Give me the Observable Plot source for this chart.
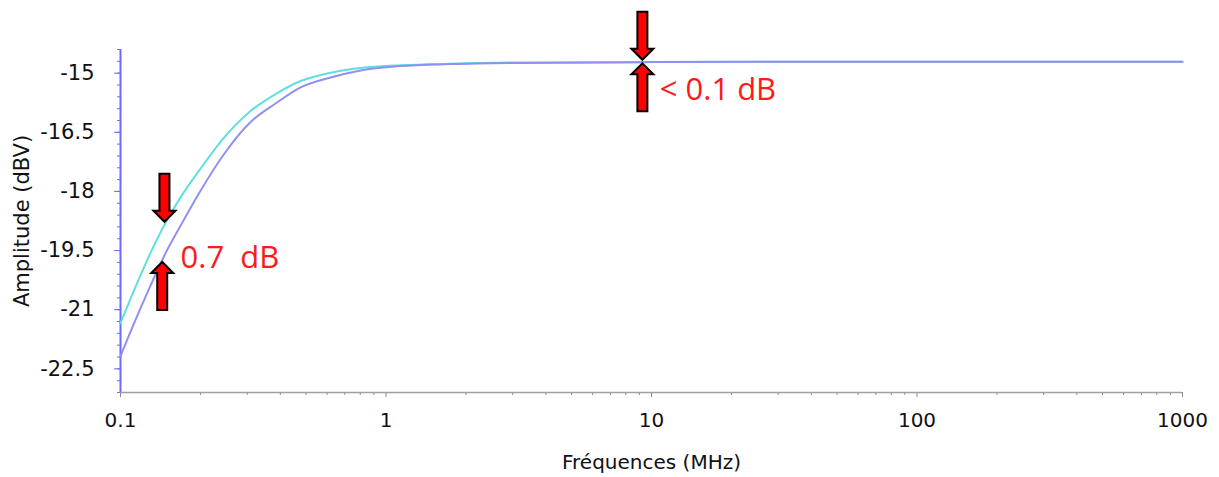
<!DOCTYPE html>
<html>
<head>
<meta charset="utf-8">
<script src="https://cdn.jsdelivr.net/npm/d3@7"></script>
<script src="https://cdn.jsdelivr.net/npm/@observablehq/plot@0.6"></script>
<style>
  body { margin: 0; background: #fff; }
  svg text { white-space: pre; }
</style>
</head>
<body>
<div id="chart"></div>
<script>
// Frequencies (MHz) at which both curves were read
const freq     = [0.1, 0.1139, 0.1297, 0.1477, 0.1683, 0.2002, 0.2487, 0.309, 0.3838, 0.4767, 0.6183, 0.8023, 1.135, 1.75, 3.2, 9.9, 100, 1000];
// Cyan curve amplitude (dBV)
const ampCyan  = [-21.34, -20.42, -19.56, -18.80, -18.15, -17.42, -16.59, -15.96, -15.53, -15.20, -14.99, -14.87, -14.80, -14.76, -14.73, -14.72, -14.71, -14.71];
// Blue curve amplitude (dBV)
const ampBlue  = [-22.18, -21.26, -20.39, -19.57, -18.87, -17.98, -17.00, -16.24, -15.77, -15.36, -15.11, -14.93, -14.82, -14.77, -14.74, -14.72, -14.71, -14.71];

// Axes
const xMajorTicks = [0.1, 1, 10, 100, 1000];
const xMinorTicks = [0.2,0.3,0.4,0.5,0.6,0.7,0.8,0.9, 2,3,4,5,6,7,8,9, 20,30,40,50,60,70,80,90, 200,300,400,500,600,700,800,900];
const yMajorTicks = [-22.5, -21, -19.5, -18, -16.5, -15];
const yMinorTicks = d3.range(-23.1, -14.39, 0.3);
const yDomain = [-23.1, -14.4];
const xDomain = [0.1, 1000];

// Annotations
const arrowX   = [0.1464, 0.1436, 9.24, 9.24];
const arrowY   = [-18.77, -19.79, -14.66, -14.75];
const arrowDir = [180, 0, 180, 0];
const labelText = ["0.7  dB", "< 0.1 dB"];
const labelX    = [0.1683, 10.74];
const labelY    = [-19.70, -15.42];

const cyan = freq.map((f, i) => ({f, a: ampCyan[i]}));
const blue = freq.map((f, i) => ({f, a: ampBlue[i]}));
const arrows = arrowX.map((x, i) => ({x, y: arrowY[i], r: arrowDir[i]}));
const labels = labelText.map((t, i) => ({t, x: labelX[i], y: labelY[i]}));

const blockArrow = {
  draw(context, l) {
    const w = 5, hw = 11, hl = 11;
    context.moveTo(-w, 0);
    context.lineTo(-w, -(l - hl));
    context.lineTo(-hw, -(l - hl));
    context.lineTo(0, -l);
    context.lineTo(hw, -(l - hl));
    context.lineTo(w, -(l - hl));
    context.lineTo(w, 0);
    context.closePath();
  }
};

const axisFont = "'DejaVu Sans', sans-serif";
const noteFont = "'Open Sans', sans-serif";

const chart = Plot.plot({
  width: 1219,
  height: 477,
  marginLeft: 120,
  marginRight: 37,
  marginTop: 49,
  marginBottom: 85,
  style: { fontFamily: axisFont, background: "#fff" },
  x: { type: "log", domain: xDomain },
  y: { domain: yDomain },
  marks: [
    Plot.axisX({ticks: xMinorTicks, tickSize: 3, tickFormat: () => "", color: "#8a8a8a", label: null}),
    Plot.axisX({ticks: xMajorTicks, tickSize: 5, tickFormat: () => "", color: "#8a8a8a", label: null}),
    Plot.axisX({ticks: xMajorTicks, tickSize: 0, tickPadding: 20, tickFormat: d => String(d), color: "#111",
      fontSize: 20, letterSpacing: 0.6, label: "Fréquences (MHz)", labelAnchor: "center", labelArrow: "none", labelOffset: 76}),
    Plot.axisY({ticks: yMinorTicks, tickSize: 3, tickFormat: () => "", color: "#6b6bff", label: null}),
    Plot.axisY({ticks: yMajorTicks, tickSize: 6, tickFormat: () => "", color: "#6b6bff", label: null}),
    Plot.axisY({ticks: yMajorTicks, tickSize: 0, tickPadding: 26, tickFormat: d => String(d), color: "#111",
      fontSize: 21, letterSpacing: 0.6, label: "Amplitude (dBV)", labelAnchor: "center", labelArrow: "none", labelOffset: 106}),
    Plot.ruleY([yDomain[0]], {stroke: "#a0a0a0", strokeWidth: 1.5}),
    Plot.ruleX([xDomain[0]], {stroke: "#6b6bff", strokeWidth: 2}),
    Plot.line(cyan, {x: "f", y: "a", stroke: "#5fe0dc", strokeWidth: 2, curve: "monotone-x"}),
    Plot.line(blue, {x: "f", y: "a", stroke: "#9090f2", strokeWidth: 2, curve: "monotone-x"}),
    Plot.vector(arrows, {x: "x", y: "y", rotate: "r", length: 48, anchor: "end", shape: blockArrow,
      fill: "#ff0000", stroke: "#000", strokeWidth: 2, strokeLinejoin: "miter"}),
    Plot.text(labels, {x: "x", y: "y", text: "t", textAnchor: "start", fill: "#ff1a1a", fontSize: 31,
      fontFamily: noteFont, letterSpacing: 1.4})
  ]
});

document.getElementById("chart").appendChild(chart);
</script>
</body>
</html>
